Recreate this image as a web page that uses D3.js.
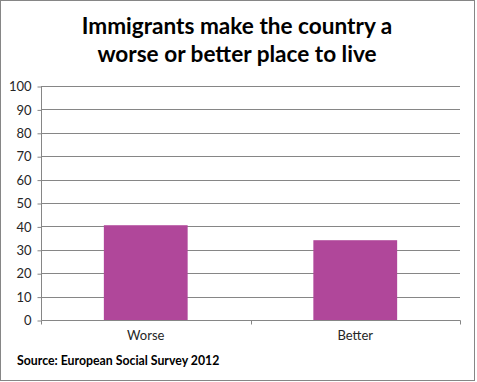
<!DOCTYPE html>
<html>
<head>
<meta charset="utf-8">
<script src="https://cdn.jsdelivr.net/npm/d3@7"></script>
<style>
  html, body { margin: 0; padding: 0; background: #fff; }
  svg { display: block; }
</style>
</head>
<body>
<svg id="chart" width="477" height="382"></svg>
<script>
const titleLines = ["Immigrants make the country a", "worse or better place to live"];
const categories = ["Worse", "Better"];
const values = [40.5, 34.1];
const yTicks = [0, 10, 20, 30, 40, 50, 60, 70, 80, 90, 100];
const sourceText = "Source: European Social Survey 2012";

const svg = d3.select("#chart");
const m = { left: 41, right: 460, top: 86, bottom: 320 };

svg.append("rect")
  .attr("x", 0.5).attr("y", 0.5)
  .attr("width", 474).attr("height", 380)
  .attr("fill", "#fff").attr("stroke", "#868686").attr("stroke-width", 1);

const font = "Lato, 'Open Sans', 'DejaVu Sans', sans-serif";

// Title
const title = svg.append("text")
  .attr("text-anchor", "middle")
  .attr("font-family", font)
  .attr("font-weight", "bold")
  .attr("font-size", 22.6)
  .attr("fill", "#000");
title.selectAll("tspan").data(titleLines).join("tspan")
  .attr("x", 237)
  .attr("y", (d, i) => 33.5 + i * 28.5)
  .text(d => d);

const x = d3.scaleBand().domain(categories).range([m.left, m.right]).paddingInner(0.6).paddingOuter(0.3);
const y = d3.scaleLinear().domain([0, 100]).range([m.bottom, m.top]);

// gridlines
svg.append("g").selectAll("line").data(yTicks.filter(d => d > 0)).join("line")
  .attr("x1", m.left).attr("x2", m.right)
  .attr("y1", d => Math.round(y(d)) + 0.5).attr("y2", d => Math.round(y(d)) + 0.5)
  .attr("stroke", "#868686").attr("stroke-width", 1);

// bars
svg.append("g").selectAll("rect").data(values).join("rect")
  .attr("x", (d, i) => x(categories[i]))
  .attr("width", x.bandwidth())
  .attr("y", d => y(d))
  .attr("height", d => y(0) - y(d))
  .attr("fill", "#B0479A");

// y axis
const yAxis = d3.axisLeft(y).tickValues(yTicks).tickSize(4).tickPadding(6);
const gy = svg.append("g").attr("transform", `translate(${m.left + 0.5},0.5)`).call(yAxis);
gy.select(".domain").attr("stroke", "#868686").attr("d", `M0,${y(0)}V${y(100)}`);
gy.selectAll(".tick line").attr("stroke", "#868686");
gy.selectAll(".tick text").attr("font-family", font).attr("font-size", 13).attr("fill", "#262626");

// x axis
const xB = d3.scaleLinear().domain([0, categories.length]).range([m.left, m.right]);
const gx = svg.append("g").attr("transform", `translate(0.5,${Math.round(y(0)) + 0.5})`);
gx.append("line").attr("x1", m.left).attr("x2", m.right).attr("stroke", "#868686");
gx.selectAll("line.t").data(d3.range(categories.length + 1)).join("line").attr("class", "t")
  .attr("x1", d => Math.round(xB(d))).attr("x2", d => Math.round(xB(d)))
  .attr("y1", 0).attr("y2", 4).attr("stroke", "#868686");
svg.append("g").selectAll("text").data(categories).join("text")
  .attr("x", d => x(d) + x.bandwidth() / 2)
  .attr("y", 340)
  .attr("text-anchor", "middle")
  .attr("font-family", font).attr("font-size", 13).attr("fill", "#262626")
  .text(d => d);

// source
svg.append("text")
  .attr("x", 17).attr("y", 365)
  .attr("font-family", font).attr("font-weight", "bold").attr("font-size", 12.3)
  .attr("fill", "#000")
  .text(sourceText);
</script>
</body>
</html>
